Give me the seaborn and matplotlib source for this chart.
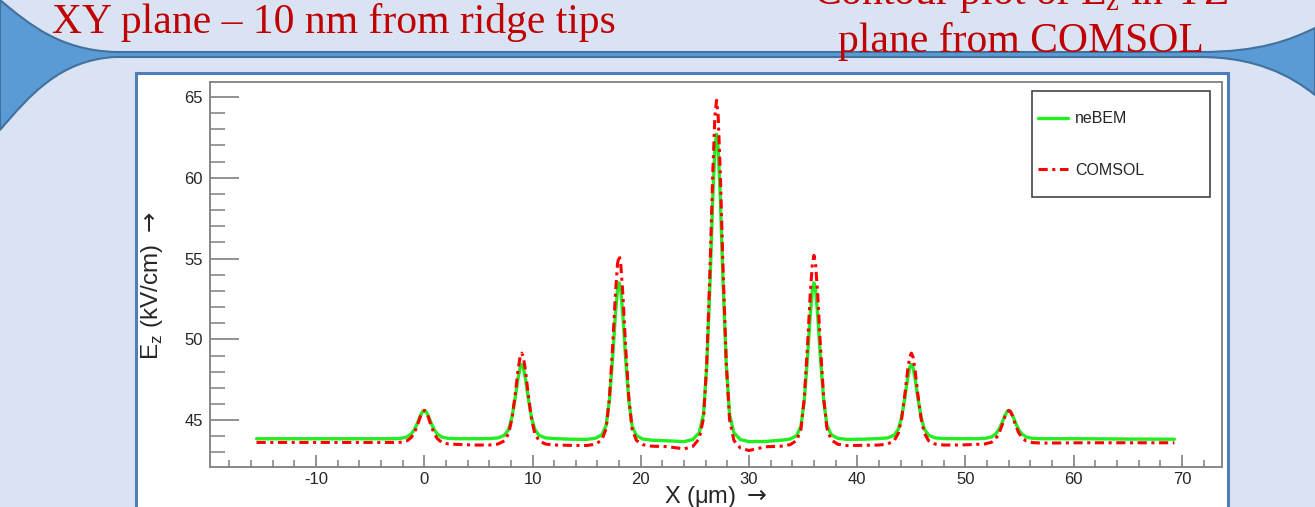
import matplotlib
matplotlib.use("Agg")
import matplotlib.pyplot as plt
from matplotlib.patches import Rectangle, PathPatch
from matplotlib.path import Path
from matplotlib.ticker import MultipleLocator
import seaborn as sns

# ---------------- data ----------------
x_um = [
    -15.5, -9, -5,
    -3, -2.2, -1.6, -1.2, -0.9, -0.6, -0.35, -0.15, 0, 0.15, 0.35, 0.6, 0.9, 1.2, 1.6, 2.2, 3,
    4.5,
    6, 6.8, 7.4, 7.8, 8.1, 8.4, 8.65, 8.85, 9, 9.15, 9.35, 9.6, 9.9, 10.2, 10.6, 11.2, 12,
    13.5,
    15, 15.8, 16.4, 16.8, 17.1, 17.4, 17.65, 17.85, 18, 18.15, 18.35, 18.6, 18.9, 19.2, 19.6, 20.2, 21,
    22.5,
    24, 24.8, 25.4, 25.8, 26.1, 26.4, 26.65, 26.85, 27, 27.15, 27.35, 27.6, 27.9, 28.2, 28.6, 29.2, 30,
    31.5,
    33, 33.8, 34.4, 34.8, 35.1, 35.4, 35.65, 35.85, 36, 36.15, 36.35, 36.6, 36.9, 37.2, 37.6, 38.2, 39,
    40.5,
    42, 42.8, 43.4, 43.8, 44.1, 44.4, 44.65, 44.85, 45, 45.15, 45.35, 45.6, 45.9, 46.2, 46.6, 47.2, 48,
    49.5,
    51, 51.8, 52.4, 52.8, 53.1, 53.4, 53.65, 53.85, 54, 54.15, 54.35, 54.6, 54.9, 55.2, 55.6, 56.2, 57,
    61, 65, 69.3,
]

ez_nebem = [
    43.85, 43.85, 43.85,
    43.85, 43.87, 43.96, 44.15, 44.43, 44.87, 45.29, 45.54, 45.60, 45.54, 45.29, 44.87, 44.43, 44.15, 43.96, 43.87, 43.85,
    43.85,
    43.86, 43.90, 44.06, 44.44, 45.18, 46.38, 47.56, 48.26, 48.45, 48.26, 47.56, 46.38, 45.18, 44.44, 44.06, 43.90, 43.86,
    43.82,
    43.81, 43.88, 44.09, 44.67, 46.23, 48.84, 51.46, 53.06, 53.50, 53.06, 51.45, 48.82, 46.19, 44.63, 44.04, 43.83, 43.76,
    43.72,
    43.67, 43.80, 44.22, 45.37, 48.41, 53.56, 58.70, 61.84, 62.70, 61.84, 58.70, 53.56, 48.41, 45.37, 44.22, 43.80, 43.67,
    43.68,
    43.76, 43.83, 44.04, 44.63, 46.19, 48.82, 51.45, 53.06, 53.50, 53.06, 51.46, 48.84, 46.23, 44.67, 44.09, 43.88, 43.81,
    43.82,
    43.86, 43.90, 44.06, 44.44, 45.18, 46.38, 47.56, 48.26, 48.45, 48.26, 47.56, 46.38, 45.18, 44.44, 44.06, 43.90, 43.86,
    43.85,
    43.85, 43.87, 43.96, 44.15, 44.43, 44.87, 45.29, 45.54, 45.60, 45.54, 45.29, 44.87, 44.43, 44.15, 43.96, 43.87, 43.85,
    43.85, 43.83, 43.82,
]

ez_comsol = [
    43.62, 43.62, 43.62,
    43.62, 43.63, 43.72, 43.93, 44.25, 44.76, 45.25, 45.53, 45.60, 45.52, 45.23, 44.72, 44.19, 43.86, 43.63, 43.53, 43.50,
    43.46,
    43.46, 43.52, 43.72, 44.19, 45.10, 46.59, 48.05, 48.92, 49.15, 48.92, 48.05, 46.59, 45.10, 44.19, 43.72, 43.52, 43.46,
    43.44,
    43.43, 43.51, 43.77, 44.48, 46.36, 49.55, 52.73, 54.67, 55.20, 54.67, 52.72, 49.53, 46.34, 44.44, 43.74, 43.48, 43.39,
    43.36,
    43.22, 43.37, 43.85, 45.14, 48.60, 54.43, 60.26, 63.83, 64.80, 63.82, 60.24, 54.38, 48.53, 45.05, 43.75, 43.27, 43.12,
    43.35,
    43.39, 43.48, 43.74, 44.44, 46.34, 49.53, 52.72, 54.67, 55.20, 54.67, 52.73, 49.55, 46.36, 44.48, 43.77, 43.51, 43.43,
    43.44,
    43.46, 43.52, 43.72, 44.19, 45.10, 46.59, 48.05, 48.92, 49.15, 48.92, 48.05, 46.59, 45.10, 44.19, 43.72, 43.52, 43.46,
    43.46,
    43.50, 43.53, 43.63, 43.86, 44.19, 44.72, 45.23, 45.52, 45.60, 45.53, 45.25, 44.74, 44.24, 43.92, 43.71, 43.61, 43.58,
    43.60, 43.60, 43.60,
]

series_names = ["neBEM", "COMSOL"]
x_ticks = [-10, 0, 10, 20, 30, 40, 50, 60, 70]
y_ticks = [45, 50, 55, 60, 65]
title_left = "XY plane \u2013 10 nm from ridge tips"
title_right_1 = "Contour plot of E$_\\mathregular{z}$ in YZ"
title_right_2 = "plane from COMSOL"
x_label = "X (\u03bcm) $\\rightarrow$"
y_label = "E$_\\mathregular{z}$ (kV/cm) $\\rightarrow$"

# ---------------- style ----------------
sns.set_style("white")
plt.rcParams["font.family"] = ["Liberation Sans", "DejaVu Sans"]
plt.rcParams["axes.unicode_minus"] = False

W, H = 1315, 507
fig = plt.figure(figsize=(W / 100, H / 100), dpi=100)
fig.patch.set_facecolor("#dae3f3")

# ---------------- slide background (pixel coords) ----------------
bg = fig.add_axes([0, 0, 1, 1], zorder=0)
bg.set_xlim(0, W)
bg.set_ylim(H, 0)
bg.axis("off")

verts = [
    (0, 0), (30, 25), (60, 50), (115, 52),
    (1200, 52),
    (1260, 52), (1290, 40), (1315, 28),
    (1315, 95),
    (1290, 75), (1255, 57), (1200, 57),
    (115, 57),
    (60, 60), (30, 95), (0, 130),
    (0, 0),
]
codes = [Path.MOVETO, Path.CURVE4, Path.CURVE4, Path.CURVE4,
         Path.LINETO,
         Path.CURVE4, Path.CURVE4, Path.CURVE4,
         Path.LINETO,
         Path.CURVE4, Path.CURVE4, Path.CURVE4,
         Path.LINETO,
         Path.CURVE4, Path.CURVE4, Path.CURVE4,
         Path.CLOSEPOLY]
bg.add_patch(PathPatch(Path(verts, codes), facecolor="#5b9bd5",
                       edgecolor="#41719c", lw=1.5))
bg.add_patch(Rectangle((136, 73), 1092, 460, facecolor="white",
                       edgecolor="#4f7fba", lw=2.2))

# titles
fig.text(52 / W, 1 - 33 / H, title_left, family="Liberation Serif",
         fontsize=30, color="#c00000", ha="left", va="baseline")
fig.text(1021 / W, 1 - 4 / H, title_right_1, family="Liberation Serif",
         fontsize=30, color="#c00000", ha="center", va="baseline")
fig.text(1021 / W, 1 - 52 / H, title_right_2, family="Liberation Serif",
         fontsize=30, color="#c00000", ha="center", va="baseline")

# ---------------- main axes ----------------
ax = fig.add_axes([210 / W, 40 / H, 1012 / W, 385 / H], zorder=2)
ax.set_facecolor("white")

sns.lineplot(x=x_um, y=ez_nebem, ax=ax, color="#22ee22", lw=2.4,
             label=series_names[0], estimator=None, sort=False)
sns.lineplot(x=x_um, y=ez_comsol, ax=ax, color="#ff0000", lw=2.2,
             linestyle=(0, (3, 1.5, 1, 1.5)),
             label=series_names[1], estimator=None, sort=False)

ax.set_xlim(-19.8, 73.7)
ax.set_ylim(42.1, 65.93)
ax.set_xticks(x_ticks)
ax.set_yticks(y_ticks)
ax.xaxis.set_minor_locator(MultipleLocator(2))
ax.yaxis.set_minor_locator(MultipleLocator(1))

for s in ax.spines.values():
    s.set_visible(True)
    s.set_color("#7f7f7f")
    s.set_linewidth(1.3)

ax.tick_params(axis="x", which="major", direction="in", length=8.6, width=1.2,
               color="#7f7f7f", labelsize=12, pad=3.4, bottom=True, top=False)
ax.tick_params(axis="x", which="minor", direction="in", length=5, width=1.1,
               color="#7f7f7f", bottom=True, top=False)
ax.tick_params(axis="y", which="major", direction="in", length=21, width=1.2,
               color="#7f7f7f", labelsize=12, pad=5, left=True, right=False)
ax.tick_params(axis="y", which="minor", direction="in", length=11, width=1.1,
               color="#7f7f7f", left=True, right=False)

ax.set_xlabel(x_label, fontsize=17, labelpad=-2.2)
ax.set_ylabel(y_label, fontsize=17.5, va="center")
ax.yaxis.set_label_coords(-0.0573, 0.47)

leg = ax.legend(loc="center left", bbox_to_anchor=(1030 / W, 1 - 144.5 / H),
                bbox_transform=fig.transFigure, frameon=False, borderpad=0,
                handlelength=1.9, handletextpad=0.42, labelspacing=2.3,
                fontsize=11.5)
ax.add_patch(Rectangle((1032 / W, 1 - 197 / H), 178 / W, 106 / H,
                       transform=fig.transFigure, fill=False,
                       edgecolor="#444444", lw=1.2, zorder=5))

fig.savefig("out.png", dpi=100, facecolor=fig.get_facecolor())
